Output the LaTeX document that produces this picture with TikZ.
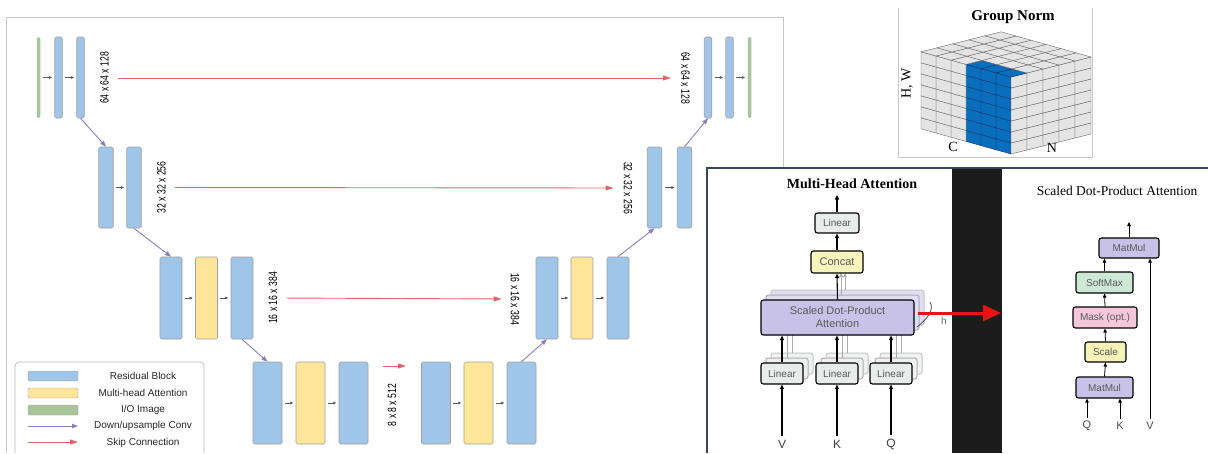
\documentclass[tikz,border=0pt]{standalone}
\usepackage{fontspec}
\setmainfont{Liberation Sans}
\newfontfamily\seriffont{Liberation Serif}
\usepackage{graphicx}
\usepackage{xcolor}
\usetikzlibrary{arrows.meta}
\definecolor{resblue}{RGB}{159,197,232}
\definecolor{attyellow}{RGB}{255,229,153}
\definecolor{iogreen}{RGB}{168,196,154}
\definecolor{barline}{RGB}{160,160,160}
\definecolor{flowgray}{RGB}{90,90,90}
\definecolor{sampviolet}{RGB}{142,124,195}
\definecolor{skipred}{RGB}{224,102,102}
\definecolor{framegray}{RGB}{200,200,200}
\definecolor{cubegray}{RGB}{228,228,228}
\definecolor{cubeline}{RGB}{110,110,110}
\definecolor{gnblue}{RGB}{10,110,190}
\definecolor{gnline}{RGB}{20,50,100}
\definecolor{lingray}{RGB}{232,236,234}
\definecolor{catyellow}{RGB}{247,244,190}
\definecolor{sdpviolet}{RGB}{200,194,232}
\definecolor{smgreen}{RGB}{206,232,214}
\definecolor{mkpink}{RGB}{244,200,218}
\definecolor{scyellow}{RGB}{247,242,184}
\definecolor{bandblack}{RGB}{28,28,28}
\definecolor{panelframe}{RGB}{58,68,88}
\definecolor{arrowred}{RGB}{230,20,20}

\newcommand{\dimtxt}[1]{\scalebox{0.72}[1]{#1}}

\begin{document}
\begin{tikzpicture}[x=1pt,y=-1pt,
  bar/.style={draw=barline,line width=0.6pt,rounded corners=1.5pt,minimum height=81pt,inner sep=0pt},
  resblk/.style={bar,fill=resblue},
  attblk/.style={bar,fill=attyellow},
  ioblk/.style={bar,fill=iogreen,draw=none},
  dimlbl/.style={inner sep=1pt,font=\fontsize{12}{12}\selectfont},
  flow/.style={-{Triangle[length=3pt,width=2.6pt]},draw=flowgray,line width=0.5pt,shorten <=2.5pt,shorten >=2.5pt},
  samp/.style={-{Triangle[length=6pt,width=4.5pt]},draw=sampviolet,line width=0.9pt},
  skip/.style={-{Triangle[length=8pt,width=5pt]},draw=skipred,line width=0.9pt},
  legsw/.style={draw=barline,rounded corners=1.5pt,minimum width=50pt,minimum height=10pt,inner sep=0pt},
  legtxt/.style={font=\fontsize{10}{12}\selectfont,text=black!85},
  attbox/.style={draw=black,line width=1.1pt,rounded corners=2.5pt,inner sep=0pt,text=black!65,font=\fontsize{10}{12}\selectfont},
  blk/.style={-{Triangle[length=4.5pt,width=4pt]},line width=1.1pt},
  fadeblk/.style={-{Triangle[length=4pt,width=3.5pt]},draw=gray!65,line width=0.9pt},
  sblk/.style={-{Triangle[length=4pt,width=3.5pt]},line width=0.8pt},
  bigred/.style={-{Triangle[length=18pt,width=16pt]},draw=arrowred,line width=3pt}]
  \useasboundingbox (0,0) rectangle (1208,453);

  % U-Net 外框
  \draw[framegray,line width=0.8pt] (6,453) -- (6,17) -- (783,17) -- (783,168);

  % 编码器
  \node[ioblk,minimum width=3.5pt] (inimg) at (38.5,77.5) {};
  \node[resblk,minimum width=7.5pt] (e1a) at (58.5,77.5) {};
  \node[resblk,minimum width=7.5pt] (e1b) at (80.5,77.5) {};
  \node[resblk,minimum width=14.5pt] (e2a) at (106,187.5) {};
  \node[resblk,minimum width=14.5pt] (e2b) at (134,187.5) {};
  \node[resblk,minimum width=22pt,minimum height=82pt] (e3a) at (171,298) {};
  \node[attblk,minimum width=22pt,minimum height=82pt] (e3m) at (206.5,298) {};
  \node[resblk,minimum width=22pt,minimum height=82pt] (e3b) at (242,298) {};

  % 中间层
  \node[resblk,minimum width=29pt,minimum height=82pt] (b1a) at (267.5,403) {};
  \node[attblk,minimum width=29pt,minimum height=82pt] (b1m) at (310.5,403) {};
  \node[resblk,minimum width=29pt,minimum height=82pt] (b1b) at (353.5,403) {};
  \node[resblk,minimum width=29pt,minimum height=82pt] (b2a) at (436,403) {};
  \node[attblk,minimum width=29pt,minimum height=82pt] (b2m) at (478.5,403) {};
  \node[resblk,minimum width=29pt,minimum height=82pt] (b2b) at (521.5,403) {};

  % 解码器
  \node[resblk,minimum width=22pt,minimum height=82pt] (d3a) at (547,298) {};
  \node[attblk,minimum width=22pt,minimum height=82pt] (d3m) at (582,298) {};
  \node[resblk,minimum width=22pt,minimum height=82pt] (d3b) at (618,298) {};
  \node[resblk,minimum width=14.5pt] (d2a) at (654.5,187.5) {};
  \node[resblk,minimum width=14.5pt] (d2b) at (684.5,187.5) {};
  \node[resblk,minimum width=7.5pt] (d1a) at (708,77.5) {};
  \node[resblk,minimum width=7.5pt] (d1b) at (729.5,77.5) {};
  \node[ioblk,minimum width=3.5pt] (outimg) at (749.5,77.5) {};

  % 块间箭头
  \draw[flow] (inimg) -- (e1a);
  \draw[flow] (e1a) -- (e1b);
  \draw[flow] (e2a) -- (e2b);
  \draw[flow] (e3a) -- (e3m);
  \draw[flow] (e3m) -- (e3b);
  \draw[flow] (b1a) -- (b1m);
  \draw[flow] (b1m) -- (b1b);
  \draw[flow] (b2a) -- (b2m);
  \draw[flow] (b2m) -- (b2b);
  \draw[flow] (d3a) -- (d3m);
  \draw[flow] (d3m) -- (d3b);
  \draw[flow] (d2a) -- (d2b);
  \draw[flow] (d1a) -- (d1b);
  \draw[flow] (d1b) -- (outimg);

  % 上下采样
  \draw[samp] (e1b.south) -- (e2a.north);
  \draw[samp] (e2b.south) -- (e3a.north);
  \draw[samp] (e3b.south) -- (b1a.north);
  \draw[samp] (b2b.north) -- (d3a.south);
  \draw[samp] (d3b.north) -- (d2a.south);
  \draw[samp] (d2b.north) -- (d1a.south);

  % 尺寸标注
  \node[dimlbl,rotate=90] (t1l) at (104.5,78) {\dimtxt{64 x 64 x 128}};
  \node[dimlbl,rotate=-90] (t1r) at (685.5,78) {\dimtxt{64 x 64 x 128}};
  \node[dimlbl,rotate=90] (t2l) at (161.5,187.5) {\dimtxt{32 x 32 x 256}};
  \node[dimlbl,rotate=-90] (t2r) at (628,188) {\dimtxt{32 x 32 x 256}};
  \node[dimlbl,rotate=90] (t3l) at (273,298) {\dimtxt{16 x 16 x 384}};
  \node[dimlbl,rotate=-90] (t3r) at (515,299) {\dimtxt{16 x 16 x 384}};
  \node[dimlbl,rotate=90] (t4) at (392,405) {\dimtxt{8 x 8 x 512}};

  % 跳跃连接
  \draw[skip,shorten <=8pt,shorten >=9pt] (t1l.south) -- (t1r.south);
  \draw[skip,shorten <=8pt,shorten >=9pt] (t2l.south) -- (t2r.south);
  \draw[skip,shorten <=8pt,shorten >=8pt] (t3l.south) -- (t3r.south);
  \coordinate (k4s) at (383,366);
  \coordinate (k4e) at (406,366);
  \draw[skip] (k4s) -- (k4e);

  % 图例
  \draw[framegray!80!gray,line width=0.7pt,rounded corners=4pt] (15,453) -- (15,362) -- (204,362) -- (204,453);
  \node[legsw,fill=resblue] (lres) at (53,376) {};
  \node[legsw,fill=attyellow] (latt) at (53,393) {};
  \node[legsw,fill=iogreen] (lio) at (53,410) {};
  \coordinate (lsa) at (28,426);
  \coordinate (lsb) at (78,426);
  \coordinate (lka) at (28,442);
  \coordinate (lkb) at (78,442);
  \draw[samp] (lsa) -- (lsb);
  \draw[skip] (lka) -- (lkb);
  \node[legtxt] (tres) at (143,375.5) {Residual Block};
  \node[legtxt] (tatt) at (143,392.5) {Multi-head Attention};
  \node[legtxt] (tio) at (143,409.5) {I/O Image};
  \node[legtxt] (tsamp) at (143,426) {Down/upsample Conv};
  \node[legtxt] (tskip) at (143,442.5) {Skip Connection};

  % Group Norm
  \draw[framegray,line width=0.8pt] (898,8) -- (898,157) -- (1092,157) -- (1092,8);
  \node[font=\seriffont\bfseries\fontsize{15}{17}\selectfont] (gntitle) at (1013,17) {Group Norm};
  \begin{scope}[shift={(1011,154)},x={(-15pt,4.2pt)},y={(0pt,11pt)},z={(16pt,4pt)},line width=0.4pt]
    \foreach \i in {0,...,5} \foreach \j in {0,...,6} {
      \ifnum\i<3 \def\cc{gnblue}\def\lc{gnline}\else\def\cc{cubegray}\def\lc{cubeline}\fi
      \filldraw[fill=\cc,draw=\lc] (\i,\j,0) -- (\i+1,\j,0) -- (\i+1,\j+1,0) -- (\i,\j+1,0) -- cycle;
    }
    \foreach \k in {0,...,4} \foreach \j in {0,...,6}
      \filldraw[fill=cubegray,draw=cubeline] (0,\j,\k) -- (0,\j,\k+1) -- (0,\j+1,\k+1) -- (0,\j+1,\k) -- cycle;
    \foreach \i in {0,...,5} \foreach \k in {0,...,4} {
      \def\cc{cubegray}\def\lc{cubeline}
      \ifnum\k=0 \ifnum\i<3 \def\cc{gnblue}\def\lc{gnline}\fi\fi
      \filldraw[fill=\cc,draw=\lc] (\i,7,\k) -- (\i+1,7,\k) -- (\i+1,7,\k+1) -- (\i,7,\k+1) -- cycle;
    }
  \end{scope}
  \node[font=\seriffont\fontsize{14}{16}\selectfont,rotate=90] (gnhw) at (907,83) {H, W};
  \node[font=\seriffont\fontsize{14}{16}\selectfont] (gnc) at (953,147) {C};
  \node[font=\seriffont\fontsize{14}{16}\selectfont] (gnn) at (1052,148) {N};

  % 注意力面板
  \fill[white] (707,168) rectangle (1208,453);
  \fill[bandblack] (952,168) rectangle (1002,453);
  \draw[panelframe,line width=2pt] (707,453) -- (707,168) -- (1208,168);

  % Multi-Head Attention
  \node[font=\seriffont\bfseries\fontsize{14}{16}\selectfont] (mtitle) at (852,184) {Multi-Head Attention};
  \foreach \d/\c in {10/gray!45,5/gray!65} {
    \filldraw[draw=\c,fill=sdpviolet!55,line width=1pt,rounded corners=2.5pt] (761+\d,300-\d) rectangle (914+\d,335-\d);
    \draw[fadeblk] (837+0.8*\d,300-\d) -- (837+0.8*\d,273);
    \foreach \cx in {782,837,891} {
      \filldraw[draw=\c,fill=lingray!70,line width=1pt,rounded corners=2.5pt] (\cx-21+\d,363-\d) rectangle (\cx+21+\d,384-\d);
      \draw[fadeblk] (\cx+\d,363-\d) -- (\cx+\d,335-\d);
    }
  }
  \node[attbox,fill=lingray,minimum width=44pt,minimum height=20pt] (mlin) at (837,223) {Linear};
  \node[attbox,fill=catyellow,minimum width=52pt,minimum height=22pt,font=\fontsize{11}{13}\selectfont] (mcat) at (837,262) {Concat};
  \node[attbox,fill=sdpviolet,minimum width=153pt,minimum height=35pt,align=center,font=\fontsize{11}{13}\selectfont] (msdp) at (837.5,317.5) {Scaled Dot-Product\\Attention};
  \node[attbox,fill=lingray,minimum width=42pt,minimum height=21pt] (ml1) at (782,373.5) {Linear};
  \node[attbox,fill=lingray,minimum width=42pt,minimum height=21pt] (ml2) at (837,373.5) {Linear};
  \node[attbox,fill=lingray,minimum width=42pt,minimum height=21pt] (ml3) at (891,373.5) {Linear};
  \node[font=\fontsize{12}{14}\selectfont,text=black!75] (mv) at (782,444) {V};
  \node[font=\fontsize{12}{14}\selectfont,text=black!75] (mk) at (837,444) {K};
  \node[font=\fontsize{12}{14}\selectfont,text=black!75] (mq) at (891,444) {Q};
  \coordinate (mout) at (837,195);
  \draw[blk] (mlin.north) -- (mout);
  \draw[blk] (mcat.north) -- (mlin.south);
  \draw[blk] (msdp.north) -- (mcat.south);
  \draw[blk] (ml1.north) -- (ml1.north |- msdp.south);
  \draw[blk] (ml2.north) -- (ml2.north |- msdp.south);
  \draw[blk] (ml3.north) -- (ml3.north |- msdp.south);
  \draw[blk] (mv.north) -- (ml1.south);
  \draw[blk] (mk.north) -- (ml2.south);
  \draw[blk] (mq.north) -- (ml3.south);
  \draw[black!70,line width=0.8pt] (930,302) .. controls (935,310) and (926,320) .. (917,327);
  \node[font=\fontsize{10}{12}\selectfont,text=black!60] (mh) at (944,321) {h};

  % Scaled Dot-Product Attention
  \node[font=\seriffont\fontsize{13.5}{16}\selectfont] (stitle) at (1117,191) {Scaled Dot-Product Attention};
  \node[attbox,fill=sdpviolet,minimum width=60pt,minimum height=20pt] (smm2) at (1129,248) {MatMul};
  \node[attbox,fill=smgreen,minimum width=57pt,minimum height=21pt] (ssm) at (1104.5,282.5) {SoftMax};
  \node[attbox,fill=mkpink,minimum width=64pt,minimum height=21pt] (smk) at (1105,317.5) {Mask (opt.)};
  \node[attbox,fill=scyellow,minimum width=41pt,minimum height=20pt] (ssc) at (1105.5,352) {Scale};
  \node[attbox,fill=sdpviolet,minimum width=57pt,minimum height=21pt] (smm1) at (1104.5,387.5) {MatMul};
  \node[font=\fontsize{11}{13}\selectfont,text=black!70] (sq) at (1087,426) {Q};
  \node[font=\fontsize{11}{13}\selectfont,text=black!70] (sk) at (1120,426) {K};
  \node[font=\fontsize{11}{13}\selectfont,text=black!70] (sv) at (1150,426) {V};
  \coordinate (sout) at (1129,222);
  \draw[sblk] (smm2.north) -- (sout);
  \draw[sblk] (ssm.north) -- (ssm.north |- smm2.south);
  \draw[sblk] (smk.north) -- (ssm.south);
  \draw[sblk] (ssc.north) -- (smk.south);
  \draw[sblk] (smm1.north) -- (ssc.south);
  \draw[sblk] (sq.north) -- (sq.north |- smm1.south);
  \draw[sblk] (sk.north) -- (sk.north |- smm1.south);
  \draw[sblk] (sv.north) -- (sv.north |- smm2.south);

  % 红色箭头
  \coordinate (sin) at (1001,313);
  \draw[bigred] ([xshift=3pt]msdp.east |- sin) -- (sin);
\end{tikzpicture}
\end{document}
